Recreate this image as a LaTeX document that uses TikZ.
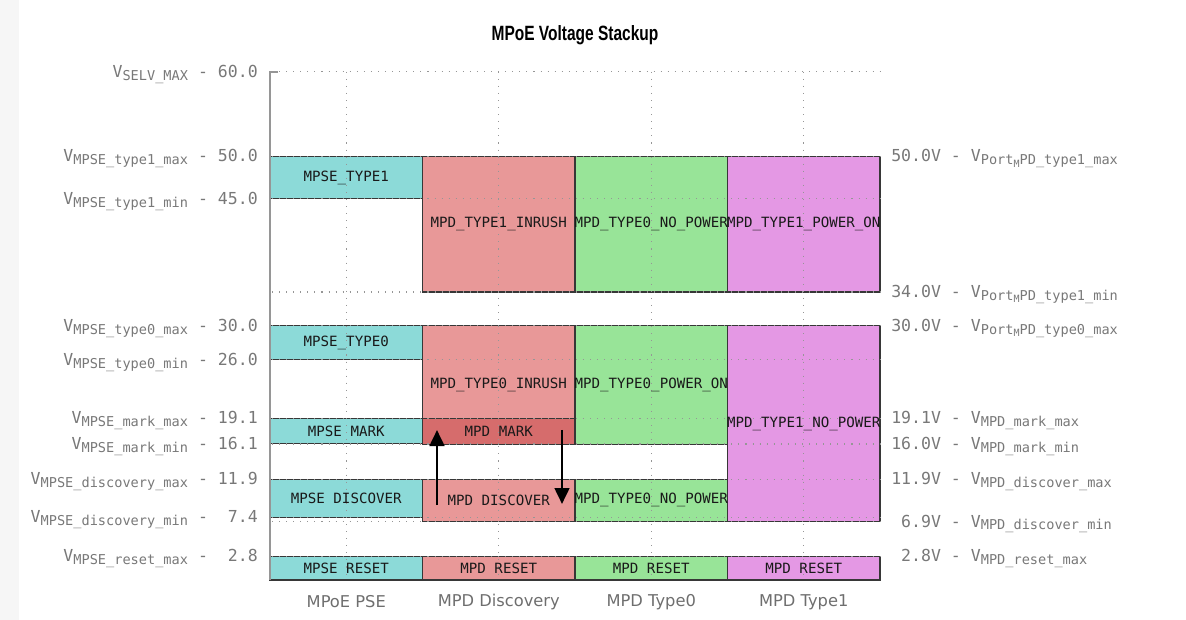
\documentclass[tikz,border=0pt]{standalone}
\usepackage{fontspec}
\setmainfont{DejaVu Sans}
\setmonofont{DejaVu Sans Mono}
\newfontfamily\titlefont{Liberation Sans}
\usetikzlibrary{arrows.meta,calc}
\definecolor{tickgray}{RGB}{120,120,120}
\definecolor{catgray}{RGB}{110,110,110}
\definecolor{gridgray}{RGB}{150,150,150}
\definecolor{axisgray}{RGB}{150,150,150}
\definecolor{cyanbox}{RGB}{140,218,216}
\definecolor{redbox}{RGB}{232,152,152}
\definecolor{redmark}{RGB}{214,108,108}
\definecolor{greenbox}{RGB}{152,228,152}
\definecolor{magbox}{RGB}{228,152,228}
\definecolor{boxline}{RGB}{55,55,55}
\definecolor{lbltext}{RGB}{25,25,25}
\definecolor{stripgray}{RGB}{246,246,246}
\pgfdeclarelayer{boxes}
\pgfdeclarelayer{grid}
\pgfsetlayers{boxes,grid,main}
\def\vy#1{(580-8.47*(#1))}
\newcommand{\tickfont}{\ttfamily\fontsize{12.4}{14}\selectfont}
\newcommand{\subfont}{\ttfamily\fontsize{10.2}{11}\selectfont}
\newcommand{\subsubfont}{\ttfamily\fontsize{7.5}{8}\selectfont}
\newcommand{\sbs}[1]{\raisebox{-2.2pt}{\subfont #1}}
\newcommand{\psub}[1]{\raisebox{-2.2pt}{\subfont Port\raisebox{-1.8pt}{\subsubfont M}#1}}
\newcommand{\bx}[7]{%
  \begin{pgfonlayer}{boxes}
    \draw[boxst, fill=#6] (#2,{\vy{#3}}) rectangle (#4,{\vy{#5}});
  \end{pgfonlayer}
  \node[boxlbl] (#1) at ({(#2+#4)/2},{\vy{(#3+#5)/2}}) {#7};}
\tikzset{
  boxst/.style={draw=boxline, line width=0.8pt},
  boxlbl/.style={font=\ttfamily\fontsize{10.6}{12}\selectfont, text=lbltext, inner sep=0pt},
  gridln/.style={draw=gridgray, line width=0.8pt, dash pattern=on 0.8pt off 4.5pt},
  ltick/.style={anchor=base east, text=tickgray, font=\tickfont, inner sep=0pt},
  rtick/.style={anchor=base west, text=tickgray, font=\tickfont, inner sep=0pt},
  catlbl/.style={text=catgray, font=\fontsize{12.2}{14}\selectfont, inner sep=0pt},
  arr/.style={-{Triangle[length=12pt,width=11pt]}, line width=2pt, black},
}
\begin{document}
\begin{tikzpicture}[x=0.75pt,y=-0.75pt]
\useasboundingbox (0,0) rectangle (1186,620);
\fill[stripgray] (0,0) rectangle (19,620);
% title
\node (title) at (575,35) {\scalebox{0.75}[1]{\titlefont\bfseries\fontsize{15.5}{17}\selectfont MPoE Voltage Stackup}};
% boxes column 1
\bx{b11}{270}{45}{422.5}{50}{cyanbox}{MPSE\_TYPE1}
\bx{b12}{270}{26}{422.5}{30}{cyanbox}{MPSE\_TYPE0}
\bx{b13}{270}{16.1}{422.5}{19.1}{cyanbox}{MPSE MARK}
\bx{b14}{270}{7.4}{422.5}{11.9}{cyanbox}{MPSE DISCOVER}
\bx{b15}{270}{0}{422.5}{2.8}{cyanbox}{MPSE RESET}
% column 2
\bx{b21}{422.5}{34}{575}{50}{redbox}{MPD\_TYPE1\_INRUSH}
\bx{b22}{422.5}{16}{575}{30}{redbox}{MPD\_TYPE0\_INRUSH}
\bx{b23}{422.5}{16}{575}{19.1}{redmark}{MPD MARK}
\bx{b24}{422.5}{6.9}{575}{11.9}{redbox}{MPD DISCOVER}
\bx{b25}{422.5}{0}{575}{2.8}{redbox}{MPD RESET}
% column 3
\bx{b31}{575}{34}{727.5}{50}{greenbox}{MPD\_TYPE0\_NO\_POWER}
\bx{b32}{575}{16}{727.5}{30}{greenbox}{MPD\_TYPE0\_POWER\_ON}
\bx{b33}{575}{6.9}{727.5}{11.9}{greenbox}{MPD\_TYPE0\_NO\_POWER}
\bx{b34}{575}{0}{727.5}{2.8}{greenbox}{MPD RESET}
% column 4
\bx{b41}{727.5}{34}{880}{50}{magbox}{MPD\_TYPE1\_POWER\_ON}
\bx{b42}{727.5}{6.9}{880}{30}{magbox}{MPD\_TYPE1\_NO\_POWER}
\bx{b43}{727.5}{0}{880}{2.8}{magbox}{MPD RESET}
% grid
\begin{pgfonlayer}{grid}
\foreach \v in {60,50,45,34,30,26,19.1,16.1,16,11.9,7.4,6.9,2.8}
  \draw[gridln] (272,{\vy{\v}}) -- (880,{\vy{\v}});
\foreach \x in {346.25,498.75,651.25,803.75}
  \draw[gridln] (\x,{\vy{60}}) -- (\x,580);
\draw[axisgray, line width=1.4pt] (270,580) -- (270,{\vy{60}}) -- (278,{\vy{60}});
\end{pgfonlayer}
% left tick labels
\node[ltick] (l60) at (258,{\vy{60}+5.5}) {V\sbs{SELV\_MAX} - 60.0};
\node[ltick] (l50) at (258,{\vy{50}+5.5}) {V\sbs{MPSE\_type1\_max} - 50.0};
\node[ltick] (l45) at (258,{\vy{45}+5.5}) {V\sbs{MPSE\_type1\_min} - 45.0};
\node[ltick] (l30) at (258,{\vy{30}+5.5}) {V\sbs{MPSE\_type0\_max} - 30.0};
\node[ltick] (l26) at (258,{\vy{26}+5.5}) {V\sbs{MPSE\_type0\_min} - 26.0};
\node[ltick] (l191) at (258,{\vy{19.1}+5.5}) {V\sbs{MPSE\_mark\_max} - 19.1};
\node[ltick] (l161) at (258,{\vy{16.1}+5.5}) {V\sbs{MPSE\_mark\_min} - 16.1};
\node[ltick] (l119) at (258,{\vy{11.9}+5.5}) {V\sbs{MPSE\_discovery\_max} - 11.9};
\node[ltick] (l74) at (258,{\vy{7.4}+5.5}) {V\sbs{MPSE\_discovery\_min} - \phantom{0}7.4};
\node[ltick] (l28) at (258,{\vy{2.8}+5.5}) {V\sbs{MPSE\_reset\_max} - \phantom{0}2.8};
% right tick labels
\node[rtick] (r50) at (891,{\vy{50}+5.5}) {50.0V - V\psub{PD\_type1\_max}};
\node[rtick] (r34) at (891,{\vy{34}+5.5}) {34.0V - V\psub{PD\_type1\_min}};
\node[rtick] (r30) at (891,{\vy{30}+5.5}) {30.0V - V\psub{PD\_type0\_max}};
\node[rtick] (r191) at (891,{\vy{19.1}+5.5}) {19.1V - V\sbs{MPD\_mark\_max}};
\node[rtick] (r16) at (891,{\vy{16}+5.5}) {16.0V - V\sbs{MPD\_mark\_min}};
\node[rtick] (r119) at (891,{\vy{11.9}+5.5}) {11.9V - V\sbs{MPD\_discover\_max}};
\node[rtick] (r69) at (891,{\vy{6.9}+5.5}) {\phantom{0}6.9V - V\sbs{MPD\_discover\_min}};
\node[rtick] (r28) at (891,{\vy{2.8}+5.5}) {\phantom{0}2.8V - V\sbs{MPD\_reset\_max}};
% categories
\node[catlbl] (c1) at (346.25,602) {MPoE PSE};
\node[catlbl] (c2) at (498.75,602) {MPD Discovery};
\node[catlbl] (c3) at (651.25,602) {MPD Type0};
\node[catlbl] (c4) at (803.75,602) {MPD Type1};
% arrows
\coordinate (upS) at (437,505);
\coordinate (upE) at (437,430);
\coordinate (dnS) at (562,430);
\coordinate (dnE) at (562,504);
\draw[arr] (upS) -- (upE);
\draw[arr] (dnS) -- (dnE);
\end{tikzpicture}
\end{document}
